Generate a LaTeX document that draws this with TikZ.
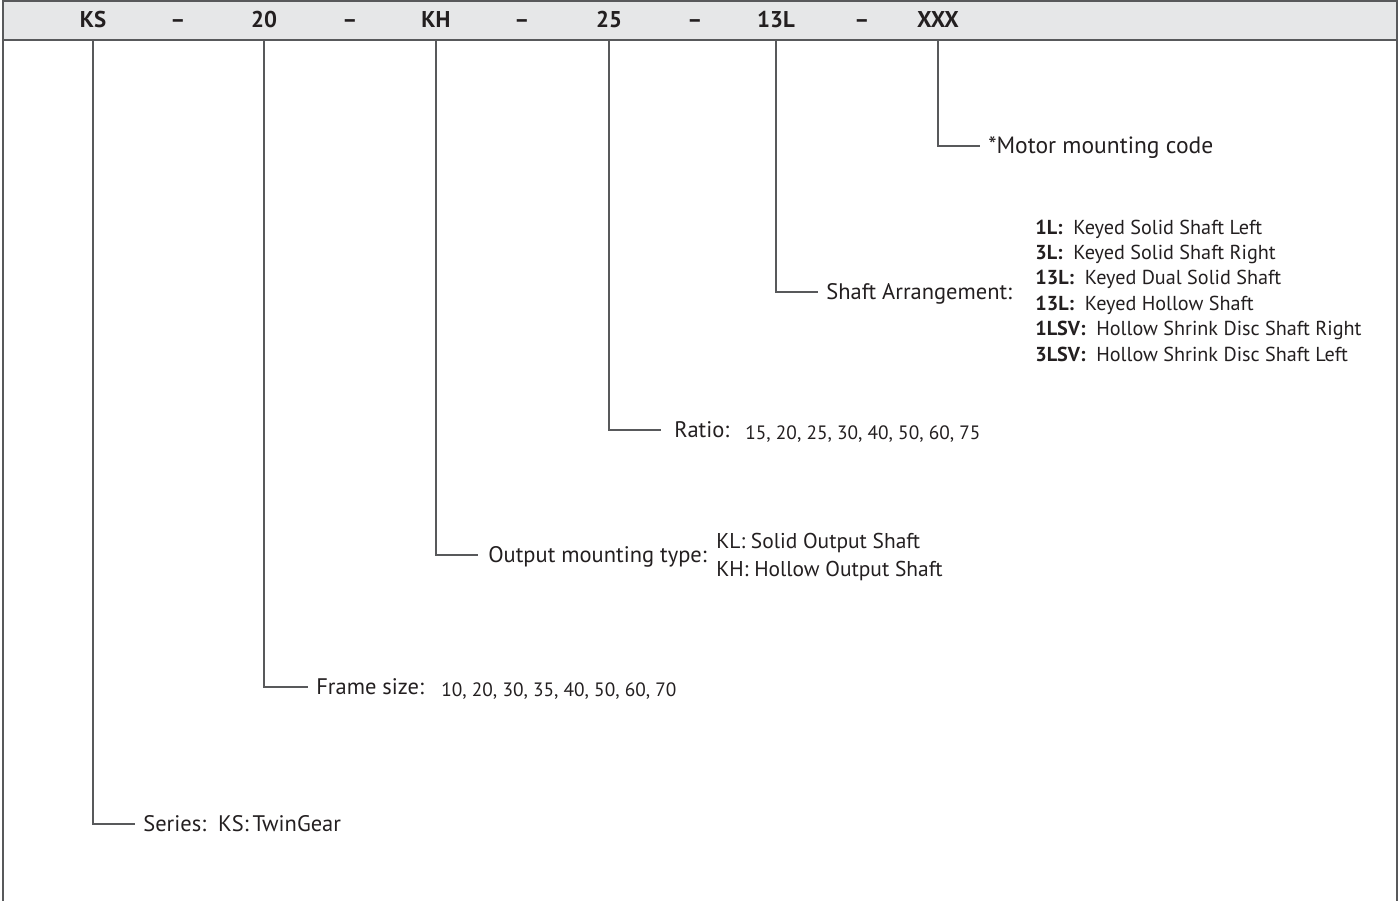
\documentclass[tikz,border=0pt]{standalone}
\usepackage{fontspec}
\setmainfont{PT Sans}
\usetikzlibrary{positioning}
\definecolor{bandgray}{HTML}{E6E7E8}
\definecolor{inkgray}{HTML}{231F20}
\definecolor{rulegray}{HTML}{58595B}

\begin{document}
\begin{tikzpicture}[x=0.02cm,y=-0.02cm,
    code/.style={inner sep=0pt, anchor=mid, yshift=-1.7pt, text=inkgray, font=\bfseries\fontsize{13}{15}\selectfont},
    lab/.style={inner sep=0pt, anchor=mid west, yshift=-1.7pt, text=inkgray, font=\fontsize{12.8}{15}\selectfont},
    val/.style={inner sep=0pt, anchor=mid west, yshift=-1.5pt, text=inkgray, font=\fontsize{11}{13}\selectfont},
    opt/.style={inner sep=0pt, anchor=mid west, yshift=-1.6pt, text=inkgray, font=\fontsize{11.5}{13}\selectfont},
    lead/.style={draw=rulegray, line width=0.6pt}]
\useasboundingbox (0,0) rectangle (1400,901);

% header band and frame
\fill[bandgray] (3,1) rectangle (1397,40);
\draw[rulegray, line width=0.9pt] (3,901) -- (3,1) -- (1397,1) -- (1397,901);
\draw[rulegray, line width=0.9pt] (3,40) -- (1397,40);
\coordinate (bandl) at (3,40);

% type code
\node[code] (ks)  at (93,20)  {KS};
\node[code] (d1)  at (178,20) {--};
\node[code] (fsz) at (264,20) {20};
\node[code] (d2)  at (350,20) {--};
\node[code] (kh)  at (436,20) {KH};
\node[code] (d3)  at (522,20) {--};
\node[code] (rat) at (609,20) {25};
\node[code] (d4)  at (695,20) {--};
\node[code] (sa)  at (776,20) {13L};
\node[code] (d5)  at (862,20) {--};
\node[code] (xxx) at (938,20) {XXX};

% labels
\node[lab, font=\fontsize{13.4}{15}\selectfont] (motor) at (988,146) {*Motor mounting code};
\node[lab] (shaft)  at (826,292) {Shaft Arrangement:};
\node[lab] (ratio)  at (674,430) {Ratio:};
\node[val]          at (745,432) {15, 20, 25, 30, 40, 50, 60, 75};
\node[lab] (mount)  at (488,555) {Output mounting type:};
\node[opt, font=\fontsize{12.2}{14}\selectfont] at (716,541) {KL: Solid Output Shaft};
\node[opt, font=\fontsize{12.2}{14}\selectfont] at (716,569) {KH: Hollow Output Shaft};
\node[lab] (frame)  at (316,687) {Frame size:};
\node[val]          at (441,689) {10, 20, 30, 35, 40, 50, 60, 70};
\node[lab] (series) at (143,824) {Series:\ \ KS:\,TwinGear};

% shaft list
\foreach \sc/\sd [count=\i] in {1L/Keyed Solid Shaft Left, 3L/Keyed Solid Shaft Right,
    13L/Keyed Dual Solid Shaft, 13L/Keyed Hollow Shaft,
    1LSV/Hollow Shrink Disc Shaft Right, 3LSV/Hollow Shrink Disc Shaft Left}
  \node[opt] (sl\i) at (1035,{227+25.4*(\i-1)}) {\textbf{\sc:}\ \ \sd};

% leader lines
\draw[lead] (ks  |- bandl) |- ([xshift=-4.5pt,yshift=1.7pt]series.mid west);
\draw[lead] (fsz |- bandl) |- ([xshift=-4.5pt,yshift=1.7pt]frame.mid west);
\draw[lead] (kh  |- bandl) |- ([xshift=-5.5pt,yshift=1.7pt]mount.mid west);
\draw[lead] (rat |- bandl) |- ([xshift=-7.5pt,yshift=1.7pt]ratio.mid west);
\draw[lead] (sa  |- bandl) |- ([xshift=-4.5pt,yshift=1.7pt]shaft.mid west);
\draw[lead] (xxx |- bandl) |- ([xshift=-4.5pt,yshift=1.7pt]motor.mid west);
\end{tikzpicture}
\end{document}
